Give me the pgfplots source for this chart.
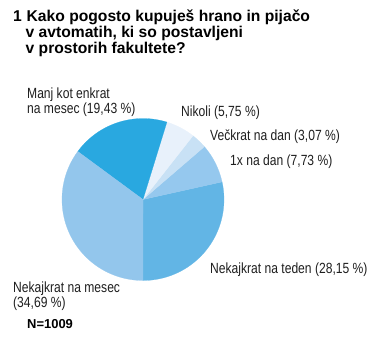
\documentclass[border=0pt]{standalone}
\usepackage{pgfplots}
\pgfplotsset{compat=1.18}
\usepackage{fontspec}
\setmainfont{Liberation Sans}
\newfontfamily\narrow{Liberation Sans}[FakeStretch=0.82]
\definecolor{cTeden}{HTML}{62B5E5}
\definecolor{cEnkrat}{HTML}{95C8EE}
\definecolor{cVeckrat}{HTML}{C8E1F5}
\definecolor{cNikoli}{HTML}{E8F1FB}
\definecolor{cManj}{HTML}{29A8E0}
\definecolor{cMesec}{HTML}{93C6EC}
\definecolor{txt}{HTML}{1E1E1E}
% share (%) / colour, counter-clockwise from the bottom
\newcommand\slices{28.15/cTeden,7.73/cEnkrat,3.07/cVeckrat,5.75/cNikoli,19.43/cManj,34.69/cMesec}
\begin{document}
\begin{tikzpicture}
\path[use as bounding box] (0,0) rectangle (380bp,-350bp);
\gdef\total{0}
\foreach \v/\c in \slices {\pgfmathsetmacro\tt{\total+\v}\global\let\total\tt}
\gdef\start{-90}
\begin{axis}[at={(143bp,-199.5bp)}, anchor=center,
  width=162bp, height=162bp, scale only axis, hide axis, clip=false,
  xmin=-1, xmax=1, ymin=-1, ymax=1]
\foreach \v/\c in \slices {
  \pgfmathsetmacro\en{\start+\v/\total*360}
  \edef\tmp{\noexpand\addplot[fill=\c, draw=\c, line width=0.2pt, domain=\start:\en, samples=80, variable=\noexpand\t]
    ({cos(\noexpand\t)},{sin(\noexpand\t)}) -- (axis cs:0,0) -- cycle;}
  \tmp
  \global\let\start\en
}
\end{axis}
% title
\node[anchor=base west, inner sep=0pt, font=\fontsize{15.7}{16.3}\selectfont\bfseries] at (13bp,-21bp) {1};
\node[anchor=base west, inner sep=0pt, font=\fontsize{15.7}{16.3}\selectfont\bfseries] at (26.5bp,-21bp) {Kako pogosto kupuješ hrano in pijačo};
\node[anchor=base west, inner sep=0pt, font=\fontsize{15.7}{16.3}\selectfont\bfseries] at (25.5bp,-37.3bp) {v avtomatih, ki so postavljeni};
\node[anchor=base west, inner sep=0pt, font=\fontsize{15.7}{16.3}\selectfont\bfseries] at (25.5bp,-53.6bp) {v prostorih fakultete?};
% labels
\begin{scope}[every node/.style={anchor=base west, inner sep=0pt, text=txt, font=\narrow\fontsize{14.8}{14}\selectfont}]
\node at (27bp,-98.3bp) {Manj kot enkrat};
\node at (27bp,-113bp) {na mesec (19,43 \%)};
\node at (181bp,-116.7bp) {Nikoli (5,75 \%)};
\node at (210bp,-140bp) {Večkrat na dan (3,07 \%)};
\node at (230bp,-165bp) {1x na dan (7,73 \%)};
\node at (210bp,-273.3bp) {Nekajkrat na teden (28,15 \%)};
\node at (13bp,-292.5bp) {Nekajkrat na mesec};
\node at (13bp,-307.2bp) {(34,69 \%)};
\end{scope}
\node[anchor=base west, inner sep=0pt, font=\fontsize{13}{13}\selectfont\bfseries] at (27bp,-328bp) {N=1009};
\end{tikzpicture}
\end{document}
